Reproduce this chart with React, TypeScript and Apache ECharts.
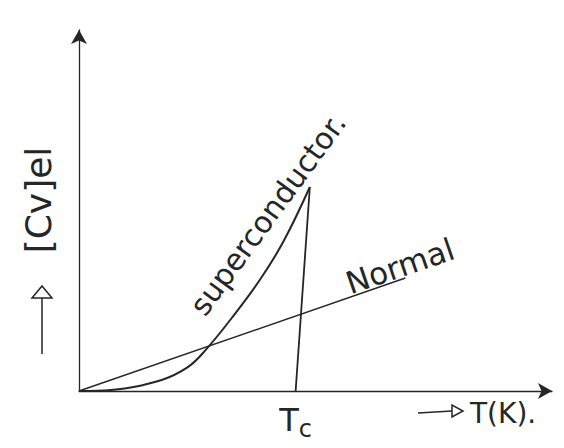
import React, { useEffect, useRef } from "react";
import * as echarts from "echarts";

// Normal metal: electronic heat capacity grows linearly with T
const normalT = [0, 6.9];
const normalCv = [0, 3.13];

// Superconductor: exponential-like rise below Tc
const superT = [0, 0.68, 1.73, 2.3, 2.68, 3.28, 3.85, 4.33, 4.88];
const superCv = [0, 0.03, 0.3, 0.66, 1.14, 2.11, 3.13, 4.16, 5.65];

// Jump at the transition temperature
const jumpT = [4.88, 4.58];
const jumpCv = [5.65, 0];

const ink = "#262626";
const font = "DejaVu Sans";

export default function App() {
  const ref = useRef<HTMLDivElement>(null);

  useEffect(() => {
    if (!ref.current) return;
    const chart = echarts.init(ref.current, null, { renderer: "svg" });

    const axisCommon = {
      type: "value" as const,
      min: 0,
      max: 10,
      axisLine: {
        show: true,
        symbol: ["none", "arrow"],
        symbolSize: [12, 14],
        lineStyle: { color: ink, width: 1.3 },
      },
      axisTick: { show: false },
      axisLabel: { show: false },
      splitLine: { show: false },
    };

    chart.setOption({
      animation: false,
      backgroundColor: "#ffffff",
      grid: { left: 79, right: 12, top: 30, bottom: 57 },
      xAxis: axisCommon,
      yAxis: axisCommon,
      series: [
        {
          type: "line",
          data: normalT.map((t, i) => [t, normalCv[i]]),
          showSymbol: false,
          lineStyle: { color: ink, width: 1.4 },
        },
        {
          type: "line",
          data: superT.map((t, i) => [t, superCv[i]]),
          smooth: 0.4,
          showSymbol: false,
          lineStyle: { color: ink, width: 2 },
        },
        {
          type: "line",
          data: jumpT.map((t, i) => [t, jumpCv[i]]),
          showSymbol: false,
          symbol: "none",
          lineStyle: { color: ink, width: 1.8 },
          markPoint: {
            symbol: "circle",
            symbolSize: 0,
            data: [
              {
                coord: [jumpT[1], jumpCv[1]],
                label: {
                  show: true,
                  position: "bottom",
                  distance: 8,
                  formatter: "T{sub|c}",
                  color: ink,
                  fontFamily: font,
                  fontSize: 32,
                  rich: {
                    sub: { fontSize: 24, color: ink, fontFamily: font, padding: [18, 0, 0, 0] },
                  },
                },
              },
            ],
          },
        },
      ],
      graphic: [
        {
          type: "text",
          x: 38,
          y: 200,
          rotation: Math.PI / 2,
          style: {
            text: "[Cv]el",
            font: `36px "${font}"`,
            fill: ink,
            textAlign: "center",
            textVerticalAlign: "middle",
          },
        },
        {
          type: "line",
          shape: { x1: 42, y1: 354, x2: 42, y2: 298 },
          style: { stroke: ink, lineWidth: 1.5 },
        },
        {
          type: "polygon",
          shape: { points: [[32, 298], [52, 298], [42, 286]] },
          style: { stroke: ink, fill: "none", lineWidth: 1.5 },
        },
        {
          type: "text",
          x: 268,
          y: 214,
          rotation: 0.94,
          style: {
            text: "superconductor.",
            font: `30px "${font}"`,
            fill: ink,
            textAlign: "center",
            textVerticalAlign: "middle",
          },
        },
        {
          type: "text",
          x: 400,
          y: 266,
          rotation: 0.33,
          style: {
            text: "Normal",
            font: `31px "${font}"`,
            fill: ink,
            textAlign: "center",
            textVerticalAlign: "middle",
          },
        },
        {
          type: "line",
          shape: { x1: 418, y1: 413, x2: 452, y2: 411 },
          style: { stroke: ink, lineWidth: 1.5 },
        },
        {
          type: "polygon",
          shape: { points: [[452, 405], [452, 417], [463, 411]] },
          style: { stroke: ink, fill: "none", lineWidth: 1.5 },
        },
        {
          type: "text",
          x: 470,
          y: 413,
          style: {
            text: "T(K).",
            font: `28px "${font}"`,
            fill: ink,
            textAlign: "left",
            textVerticalAlign: "middle",
          },
        },
      ],
    });

    return () => chart.dispose();
  }, []);

  return <div ref={ref} style={{ width: 564, height: 448, position: "absolute", left: 0, top: 0 }} />;
}
